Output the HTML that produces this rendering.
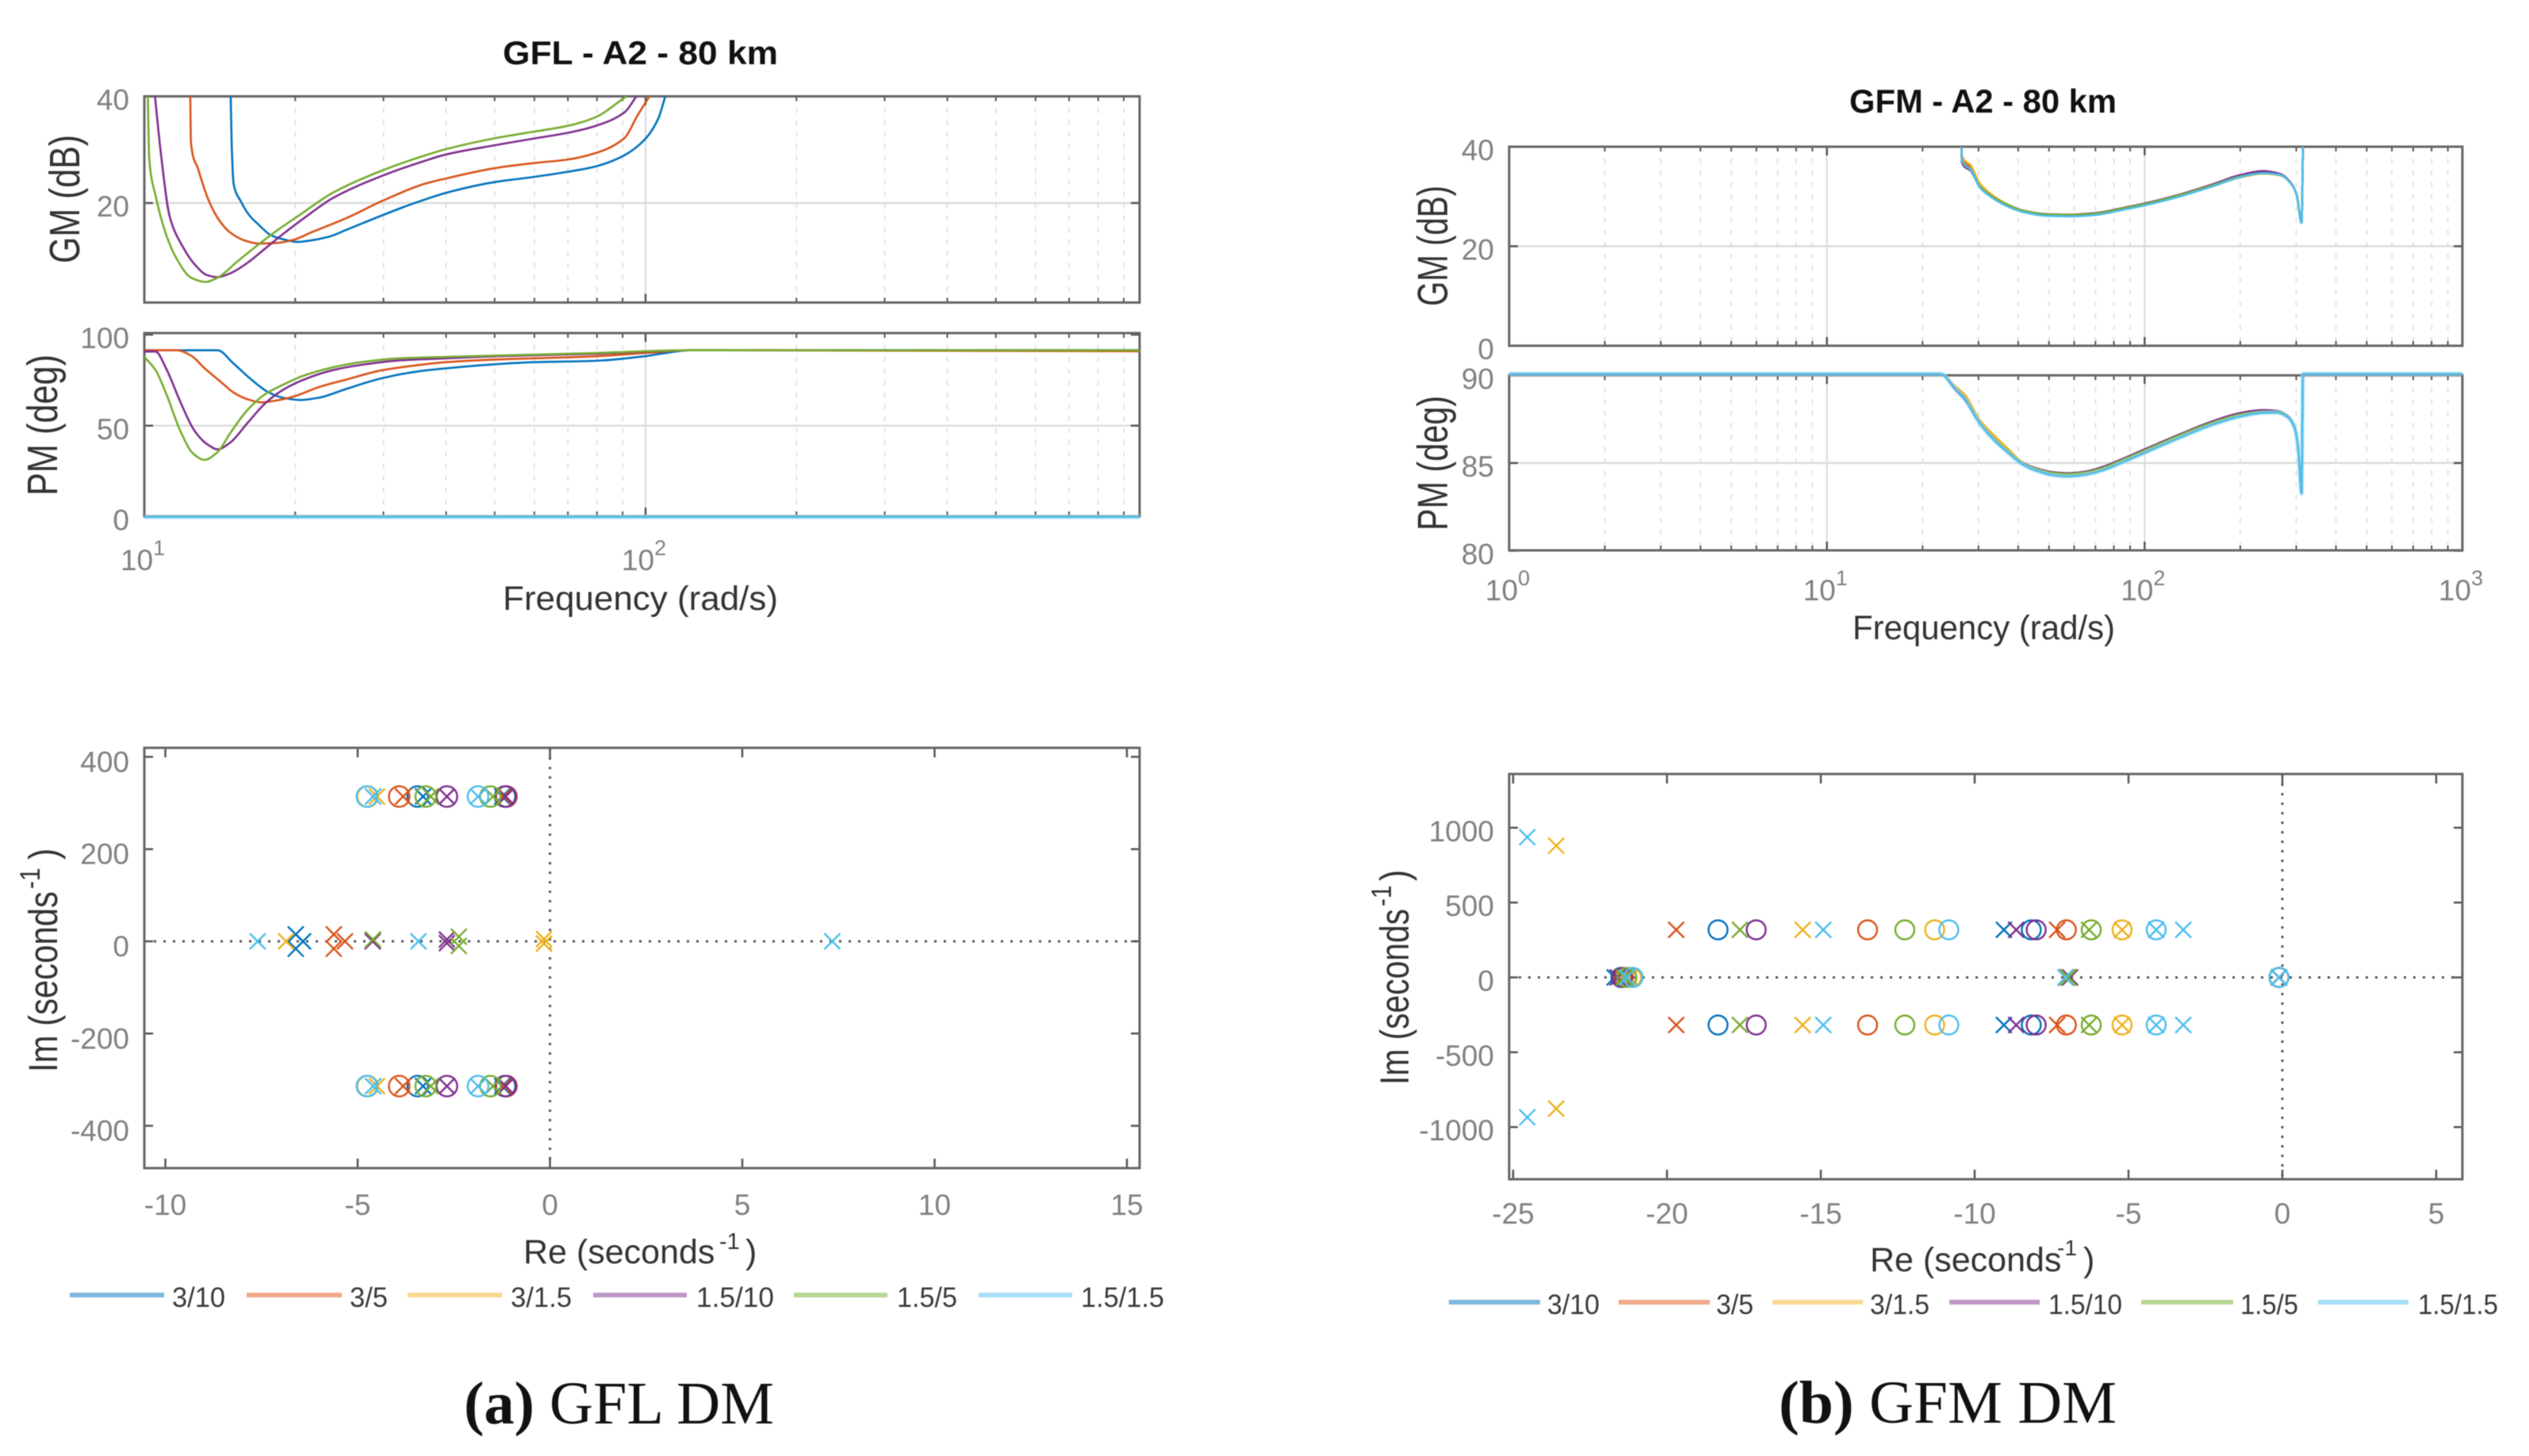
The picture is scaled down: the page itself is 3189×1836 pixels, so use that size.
<!DOCTYPE html>
<html lang="en">
<head>
<meta charset="utf-8">
<title>GFL and GFM DM charts</title>
<style>
html,body{margin:0;padding:0;background:#fff;width:3189px;height:1836px;overflow:hidden}
svg{display:block;filter:blur(0.6px)}
text{font-family:"Liberation Sans",Arial,sans-serif}
.ttl{font-size:42px;font-weight:bold;fill:#111}
.lab{font-size:43px;fill:#333}
.lgd{font-size:35px;fill:#3a3a3a}
.tick{font-size:37px;fill:#808080}
.cap{font-family:"Liberation Serif",serif;font-size:76px;fill:#111}
</style>
</head>
<body>
<svg id="chart" xmlns="http://www.w3.org/2000/svg" width="3189" height="1836" viewBox="0 0 3189 1836">
<rect x="0" y="0" width="3189" height="1836" fill="#fff"/>
<defs>
<clipPath id="clipGmA"><rect x="182" y="121" width="1255" height="261"/></clipPath>
<clipPath id="clipGmB"><rect x="1903" y="185" width="1202" height="251"/></clipPath>
</defs>

<g id="gfl-gm"></g>
<g id="gfl-pm"></g>
<g id="gfl-pz"></g>
<g id="gfm-gm"></g>
<g id="gfm-pm"></g>
<g id="gfm-pz"></g>

<text class="ttl" x="634" y="81" textLength="347" lengthAdjust="spacingAndGlyphs">GFL - A2 - 80 km</text>
<text class="ttl" x="2332" y="142" textLength="337" lengthAdjust="spacingAndGlyphs">GFM - A2 - 80 km</text>

<text class="lab" transform="translate(100,332) rotate(-90) scale(1,1.25)" textLength="162" lengthAdjust="spacingAndGlyphs">GM (dB)</text>
<text class="lab" transform="translate(72,625) rotate(-90) scale(1,1.25)" textLength="178" lengthAdjust="spacingAndGlyphs">PM (deg)</text>
<text class="lab" x="634" y="769" textLength="347" lengthAdjust="spacingAndGlyphs">Frequency (rad/s)</text>

<text class="lab" transform="translate(1825,386) rotate(-90) scale(1,1.25)" textLength="152" lengthAdjust="spacingAndGlyphs">GM (dB)</text>
<text class="lab" transform="translate(1825,669) rotate(-90) scale(1,1.25)" textLength="170" lengthAdjust="spacingAndGlyphs">PM (deg)</text>
<text class="lab" x="2336" y="806" textLength="331" lengthAdjust="spacingAndGlyphs">Frequency (rad/s)</text>

<text class="lab" y="1593"><tspan x="660">Re (seconds</tspan><tspan x="907" dy="-18" font-size="29">-1</tspan><tspan x="940" dy="18">)</tspan></text>
<text class="lab" y="1603" font-size="42"><tspan x="2358">Re (seconds</tspan><tspan x="2594" dy="-20" font-size="28">-1</tspan><tspan x="2627" dy="20">)</tspan></text>

<g class="lab">
<text class="lab" transform="translate(72,1352) rotate(-90) scale(1,1.18)" textLength="228" lengthAdjust="spacingAndGlyphs">Im (seconds</text>
<text class="lab" style="font-size:30px" transform="translate(50,1121) rotate(-90) scale(1,1.18)">-1</text>
<text class="lab" transform="translate(72,1084) rotate(-90) scale(1,1.18)">)</text>
</g>
<g class="lab">
<text class="lab" transform="translate(1776,1368) rotate(-90) scale(1,1.18)" textLength="222" lengthAdjust="spacingAndGlyphs">Im (seconds</text>
<text class="lab" style="font-size:30px" transform="translate(1754,1143) rotate(-90) scale(1,1.18)">-1</text>
<text class="lab" transform="translate(1776,1111) rotate(-90) scale(1,1.18)">)</text>
</g>

<g>
<line x1="88" x2="207" y1="1633" y2="1633" stroke="#7fb8de" stroke-width="6"/>
<text class="lgd" x="217" y="1648" textLength="67" lengthAdjust="spacingAndGlyphs">3/10</text>
<line x1="311" x2="431" y1="1633" y2="1633" stroke="#f0a98c" stroke-width="6"/>
<text class="lgd" x="441" y="1648" textLength="48" lengthAdjust="spacingAndGlyphs">3/5</text>
<line x1="514" x2="633" y1="1633" y2="1633" stroke="#f7d88f" stroke-width="6"/>
<text class="lgd" x="644" y="1648" textLength="77" lengthAdjust="spacingAndGlyphs">3/1.5</text>
<line x1="748" x2="866" y1="1633" y2="1633" stroke="#bf97c6" stroke-width="6"/>
<text class="lgd" x="878" y="1648" textLength="98" lengthAdjust="spacingAndGlyphs">1.5/10</text>
<line x1="1001" x2="1119" y1="1633" y2="1633" stroke="#b9d596" stroke-width="6"/>
<text class="lgd" x="1131" y="1648" textLength="76" lengthAdjust="spacingAndGlyphs">1.5/5</text>
<line x1="1234" x2="1352" y1="1633" y2="1633" stroke="#a6def6" stroke-width="6"/>
<text class="lgd" x="1363" y="1648" textLength="105" lengthAdjust="spacingAndGlyphs">1.5/1.5</text>
</g>

<g>
<line x1="1827" x2="1942" y1="1642" y2="1642" stroke="#7fb8de" stroke-width="6"/>
<text class="lgd" x="1951" y="1657" textLength="66" lengthAdjust="spacingAndGlyphs">3/10</text>
<line x1="2041" x2="2156" y1="1642" y2="1642" stroke="#f0a98c" stroke-width="6"/>
<text class="lgd" x="2164" y="1657" textLength="47" lengthAdjust="spacingAndGlyphs">3/5</text>
<line x1="2235" x2="2349" y1="1642" y2="1642" stroke="#f7d88f" stroke-width="6"/>
<text class="lgd" x="2358" y="1657" textLength="75" lengthAdjust="spacingAndGlyphs">3/1.5</text>
<line x1="2458" x2="2572" y1="1642" y2="1642" stroke="#bf97c6" stroke-width="6"/>
<text class="lgd" x="2583" y="1657" textLength="93" lengthAdjust="spacingAndGlyphs">1.5/10</text>
<line x1="2700" x2="2816" y1="1642" y2="1642" stroke="#b9d596" stroke-width="6"/>
<text class="lgd" x="2825" y="1657" textLength="73" lengthAdjust="spacingAndGlyphs">1.5/5</text>
<line x1="2923" x2="3037" y1="1642" y2="1642" stroke="#a6def6" stroke-width="6"/>
<text class="lgd" x="3049" y="1657" textLength="101" lengthAdjust="spacingAndGlyphs">1.5/1.5</text>
</g>

<text class="cap" x="585" y="1795" textLength="391" lengthAdjust="spacingAndGlyphs"><tspan font-weight="bold">(a)</tspan> GFL DM</text>
<text class="cap" x="2243" y="1794" textLength="426" lengthAdjust="spacingAndGlyphs"><tspan font-weight="bold">(b)</tspan> GFM DM</text>
</svg>

<script>
// ---------- series identity ----------
const seriesNames = ['3-10', '3-5', '3-1.5', '1.5-10', '1.5-5', '1.5-1.5'];
const seriesColors = ['#0072BD', '#D95319', '#EDB120', '#7E2F8E', '#77AC30', '#4DBEEE'];

// ---------- GFL gain margin (rad/s, dB) ----------
const gflGmFreq = [
  [14.87,14.94,15.07,15.56,16.2,16.88,17.87,18.92,20.19,21.54,23.37,25.35,29.83,35.1,39.96,49.8,60,69.4,79.1,90.1,99.4,106,109.5],
  [12.35,12.39,12.8,13.45,14.12,14.82,15.82,16.88,18.31,19.86,21.54,25.35,29.83,36.25,39.96,49.8,60,69.4,79.1,90.8,96.2,101.8],
  [],
  [10.5,10.79,11.24,11.9,12.6,13.33,14,14.82,16.07,17.44,18.92,20.85,23.75,29.83,36.25,39.96,49.8,60,69.4,79.1,90.8,95.9],
  [10.16,10.23,10.53,11.06,11.61,12.39,13.23,14,15.31,16.88,18.31,20.52,23.75,29.83,36.25,39.96,49.8,60,69.4,79.1,91.6],
  []
];
const gflGmValues = [
  [40,30.8,23.6,20.4,17.7,16,14,13.2,12.7,13,13.7,15,17.7,20.2,21.9,23.9,24.9,25.8,26.8,28.8,31.8,35.8,40],
  [40,31.3,26.4,20.4,16.7,14.5,13,12.4,12.5,13.1,14.5,17.2,20.4,23.6,24.6,26.5,27.5,28.1,29.3,32.2,36.3,40],
  [],
  [40,29.3,17.4,12,8.5,6.5,6.1,6.8,8.8,11.5,14.2,17.2,20.9,25.1,27.9,29.1,30.8,32.1,33.1,34.4,37,40],
  [40,28.3,21.4,14,9.5,6,5.2,6,9,12.2,14.7,17.9,21.9,26.1,28.9,30.1,32.1,33.4,34.4,36,40],
  []
];

// ---------- GFL phase margin (rad/s, deg) ----------
const gflPmFreq = [
  [10,14,15.07,16.34,17.73,18.92,20.52,22.26,25.35,29.83,35.1,39.96,49.8,60,79.1,99.4,109.5,122.4,968],
  [10,11.61,12.39,13.23,14.12,15.07,16.07,17.16,18.31,19.86,22.26,25.35,29.83,36.25,39.96,49.8,60,79.1,99.4,122.4,968],
  [10,968],
  [10,10.53,11.06,11.8,12.6,13.33,14,14.82,16.07,17.44,18.92,20.85,23.75,27.06,32.35,39.96,49.8,79.1,122.4,968],
  [10,10.53,11.06,11.8,12.5,13.18,14,14.82,16.07,17.44,18.92,20.85,23.75,27.06,32.35,39.96,49.8,79.1,122.4,968],
  [10,968]
];
const gflPmValues = [
  [91.4,91.4,84.1,75.4,68.2,65.3,64.1,65.3,70.3,76.1,79.8,81.5,83.7,84.9,85.6,88.1,89.9,91.4,91.4],
  [91.4,91.4,88.5,81.2,74.7,68.2,64.5,62.8,63.8,66,71.1,75.4,80.5,83.7,84.9,86.3,87,88.1,89.9,91.4,90.9],
  [0,0],
  [90.7,90.7,81.2,63.1,47.1,39.9,37,40.6,51.5,62.4,69.7,75.4,80.5,83.4,85.9,87,88.1,89.5,91.4,91.4],
  [87.8,80.5,67.4,47.1,34.8,31.2,35.5,45.7,58.7,67.4,72.5,77.6,82,84.9,87,87.8,88.5,89.9,91.4,91.4],
  [-0.2,-0.2]
];

// ---------- GFM gain margin ----------
const gfmGmFreq = [26.5,26.6,28.4,30.3,32.7,36.2,41.2,49.3,59,70.6,86.7,100,127.4,164.6,199.5,235.7,267.9,289.4,300.8,311.8,315];
const gfmGmValues = [
  [40,37.6,35.5,32,30.2,28.5,27.1,26.3,26.2,26.5,27.6,28.4,30.1,32.3,34.1,34.9,34.4,32.6,30.4,24.7,40],
  [40,37.8,35.7,32.2,30.3,28.6,27.1,26.3,26.2,26.5,27.6,28.4,30.1,32.2,34,34.8,34.3,32.5,30.4,24.8,40],
  [40,38.3,36.2,32.6,30.6,28.75,27.2,26.35,26.2,26.5,27.5,28.3,30,32.1,33.8,34.6,34.2,32.5,30.3,24.8,40],
  [40,36.9,35.1,31.9,30.2,28.6,27.2,26.45,26.35,26.7,27.8,28.6,30.3,32.5,34.3,35.1,34.5,32.6,30.4,24.7,40],
  [40,37.4,35.4,32,30.2,28.6,27.2,26.4,26.3,26.6,27.7,28.5,30.2,32.3,34,34.7,34.3,32.5,30.4,24.8,40],
  [40,37.4,35.3,31.8,30,28.3,26.9,26.1,26,26.3,27.4,28.2,29.9,32.1,33.9,34.7,34.3,32.5,30.3,24.7,40]
];

// ---------- GFM phase margin ----------
const gfmPmFreq = [1,22.8,25.3,27.3,30.3,33.5,37.2,41.2,45.6,51.9,57.5,65.3,74.3,86.7,100,127.4,164.6,199.5,235.7,261.2,282,296.9,304.6,311.8,315,1000];
const gfmPmValues = [
  [90.08,90.08,89.3,88.65,87.3,86.4,85.65,85,84.64,84.4,84.34,84.44,84.7,85.2,85.68,86.5,87.3,87.75,87.93,87.93,87.67,87,85.8,83.27,90.08,90.08],
  [90.08,90.08,89.35,88.7,87.35,86.45,85.7,85,84.64,84.4,84.34,84.44,84.7,85.2,85.68,86.5,87.28,87.73,87.9,87.9,87.65,87,85.8,83.3,90.08,90.08],
  [90.08,90.08,89.4,88.85,87.45,86.6,85.8,85.05,84.66,84.4,84.34,84.42,84.68,85.17,85.65,86.45,87.22,87.68,87.87,87.87,87.62,86.95,85.75,83.3,90.08,90.08],
  [90.08,90.08,89.2,88.55,87.25,86.38,85.65,85.03,84.7,84.47,84.42,84.52,84.8,85.3,85.78,86.6,87.4,87.85,88.02,87.98,87.7,87,85.8,83.27,90.08,90.08],
  [90.08,90.08,89.25,88.6,87.3,86.42,85.68,85.02,84.67,84.44,84.38,84.48,84.74,85.25,85.72,86.55,87.33,87.77,87.93,87.93,87.67,87,85.8,83.3,90.08,90.08],
  [90.08,90.08,89.25,88.6,87.25,86.33,85.58,84.93,84.56,84.3,84.24,84.34,84.6,85.1,85.58,86.4,87.2,87.65,87.86,87.88,87.62,86.95,85.75,83.27,90.08,90.08]
];

// ---------- GFL poles and zeros ----------
const gflPoleRe = [
  [-6.61,-6.61,-6.42,-3.3,-3.3,-1.24,-1.24],
  [-5.62,-5.62,-5.33,-3.82,-3.82,-1.2,-1.2],
  [-6.86,-0.155,-0.155,-4.5,-4.5],
  [-2.68,-2.68,-4.61,-2.68,-2.68,-1.15,-1.15],
  [-2.37,-2.37,-4.6,-3.1,-3.1,-1.48,-1.48],
  [-7.6,-3.42,7.34,-4.6,-4.6,-1.87,-1.87]
];
const gflPoleIm = [
  [15,-16,0,314,-314,314,-314],
  [15,-16,0,314,-314,314,-314],
  [0,5,-5,314,-314],
  [4,-4,0,314,-314,314,-314],
  [10,-10,4,314,-314,314,-314],
  [0,0,0,314,-314,314,-314]
];
const gflZeroRe = [
  [-3.44,-3.44,-1.17,-1.17],
  [-3.92,-3.92,-1.13,-1.13],
  [-4.74,-4.74],
  [-2.68,-2.68,-1.15,-1.15],
  [-3.23,-3.23,-1.55,-1.55],
  [-4.76,-4.76,-1.87,-1.87]
];
const gflZeroIm = [
  [314,-314,314,-314],
  [314,-314,314,-314],
  [314,-314],
  [314,-314,314,-314],
  [314,-314,314,-314],
  [314,-314,314,-314]
];

// ---------- GFM poles and zeros ----------
const gfmPoleRe = [
  [-9.05,-9.05,-21.7,-7.02,-0.11],
  [-19.7,-19.7,-7.32,-7.32,-21.45,-6.97,-0.11],
  [-23.6,-23.6,-15.59,-15.59,-5.21,-5.21,-21.2,-6.98,-0.11],
  [-8.65,-8.65,-21.6,-6.9,-0.11],
  [-17.63,-17.63,-6.28,-6.28,-21.4,-6.95,-0.11],
  [-24.54,-24.54,-14.92,-14.92,-4.1,-4.1,-3.22,-3.22,-21.3,-7.05,-0.11]
];
const gfmPoleIm = [
  [318,-318,0,0,0],
  [318,-318,318,-318,0,0,0],
  [880,-877,318,-318,318,-318,0,0,0],
  [318,-318,0,0,0],
  [318,-318,318,-318,0,0,0],
  [937,-935,318,-318,318,-318,318,-318,0,0,0]
];
const gfmZeroRe = [
  [-18.34,-18.34,-8.16,-8.16,-21.5,-0.11],
  [-13.48,-13.48,-7.02,-7.02,-21.4,-0.11],
  [-11.3,-11.3,-5.21,-5.21,-21.15,-0.11],
  [-17.1,-17.1,-8,-8,-21.45,-0.11],
  [-12.27,-12.27,-6.21,-6.21,-21.3,-0.11],
  [-10.84,-10.84,-4.1,-4.1,-21.1,-0.11]
];
const gfmZeroIm = [
  [318,-318,318,-318,0,0],
  [318,-318,318,-318,0,0],
  [318,-318,318,-318,0,0],
  [318,-318,318,-318,0,0],
  [318,-318,318,-318,0,0],
  [318,-318,318,-318,0,0]
];

// ---------- tick labels ----------
const gflGmTicks = [20, 40];
const gflPmTicks = [0, 50, 100];
const gflDecades = [1, 2];
const gfmGmTicks = [0, 20, 40];
const gfmPmTicks = [80, 85, 90];
const gfmDecades = [0, 1, 2, 3];
const gflReTicks = [-10, -5, 0, 5, 10, 15];
const gflImTicks = [-400, -200, 0, 200, 400];
const gfmReTicks = [-25, -20, -15, -10, -5, 0, 5];
const gfmImTicks = [-1000, -500, 0, 500, 1000];

// ---------- helpers ----------
const NS = 'http://www.w3.org/2000/svg';
function mk(tag, parent, attrs) {
  const el = document.createElementNS(NS, tag);
  for (const k in attrs) el.setAttribute(k, attrs[k]);
  parent.appendChild(el);
  return el;
}
function linScale(v0, p0, v1, p1) {
  return function (v) { return p0 + (v - v0) * (p1 - p0) / (v1 - v0); };
}
function logScale(decade0, p0, decade1, p1) {
  return function (f) { return p0 + (Math.log10(f) - decade0) * (p1 - p0) / (decade1 - decade0); };
}
// Monotone cubic path through screen points (no overshoot past the read values).
function monotonePath(xs, ys) {
  const n = xs.length;
  if (n < 3) return 'M' + xs[0] + ' ' + ys[0] + 'L' + xs[n - 1] + ' ' + ys[n - 1];
  const dx = [], sl = [], m = new Array(n);
  for (let i = 0; i < n - 1; i++) {
    dx[i] = Math.max(xs[i + 1] - xs[i], 0.001);
    sl[i] = (ys[i + 1] - ys[i]) / dx[i];
  }
  m[0] = sl[0];
  m[n - 1] = sl[n - 2];
  for (let i = 1; i < n - 1; i++) {
    if (sl[i - 1] * sl[i] <= 0) m[i] = 0;
    else m[i] = 3 * (dx[i - 1] + dx[i]) / ((2 * dx[i] + dx[i - 1]) / sl[i - 1] + (dx[i] + 2 * dx[i - 1]) / sl[i]);
  }
  let d = 'M' + xs[0].toFixed(1) + ' ' + ys[0].toFixed(1);
  for (let i = 0; i < n - 1; i++) {
    const h = dx[i] / 3;
    d += 'C' + (xs[i] + h).toFixed(1) + ' ' + (ys[i] + m[i] * h).toFixed(1) + ' ' +
         (xs[i + 1] - h).toFixed(1) + ' ' + (ys[i + 1] - m[i + 1] * h).toFixed(1) + ' ' +
         xs[i + 1].toFixed(1) + ' ' + ys[i + 1].toFixed(1);
  }
  return d;
}
const AXIS = '#666', TICK = '#555';

function drawFrame(g, box) {
  const el = mk('rect', g, { x: box.l, y: box.t, width: box.r - box.l, height: box.b - box.t, fill: 'none', stroke: AXIS, 'stroke-width': 3 });
  
  
}

function drawYAxis(g, box, ticks, y, baselineOffset, withGrid) {
  ticks.forEach(function (v) {
    const p = y(v);
    if (withGrid && p > box.t + 3 && p < box.b - 3) {
      const gl = mk('line', g, { x1: box.l, x2: box.r, y1: p, y2: p, stroke: '#dcdcdc', 'stroke-width': 2.5 });
      
      
    }
    const t1 = mk('path', g, { d: 'M' + box.l + ' ' + p + 'h11M' + box.r + ' ' + p + 'h-11', stroke: TICK, 'stroke-width': 2.5, fill: 'none' });
    
    
    const lb = mk('text', g, { x: box.l - 19, y: p + baselineOffset, 'text-anchor': 'end', class: 'tick' });
    
    
    lb.textContent = String(v);
  });
}

function drawLogGrid(g, box, decades, x, labelBaseline) {
  const first = decades[0];
  const last = decades[decades.length - 1];
  for (let d = first; d <= last + 1; d++) {
    const major = x(Math.pow(10, d));
    if (major >= box.l - 1 && major <= box.r + 1) {
      if (major > box.l + 3 && major < box.r - 3) {
        const gl = mk('line', g, { x1: major, x2: major, y1: box.t, y2: box.b, stroke: '#d9d9d9', 'stroke-width': 2 });
        
        
      }
      const tk = mk('path', g, { d: 'M' + major + ' ' + box.t + 'v11M' + major + ' ' + box.b + 'v-11', stroke: TICK, 'stroke-width': 2.5, fill: 'none' });
      
      
    }
    for (let m = 2; m <= 9; m++) {
      const p = x(m * Math.pow(10, d));
      if (p <= box.l || p >= box.r) continue;
      const gl = mk('line', g, { x1: p, x2: p, y1: box.t, y2: box.b, stroke: '#e2e2e2', 'stroke-width': 2, 'stroke-dasharray': '6 9' });
      
      
      const tk = mk('path', g, { d: 'M' + p + ' ' + box.t + 'v6M' + p + ' ' + box.b + 'v-6', stroke: TICK, 'stroke-width': 2, fill: 'none' });
      
      
    }
  }
  if (labelBaseline) {
    decades.forEach(function (d) {
      const lb = mk('text', g, { x: x(Math.pow(10, d)) - 2, y: labelBaseline, 'text-anchor': 'middle', class: 'tick' });
      
      
      lb.appendChild(document.createTextNode('10'));
      const sp = mk('tspan', lb, { dy: -19, 'font-size': 27 });
      sp.textContent = String(d);
    });
  }
}

function drawCurve(g, freqs, values, idx, x, y, clip, width, halo) {
  if (!values.length) return;
  const xs = values.map(function (v, i) { return x(freqs[i]); });
  const ys = values.map(function (v) { return y(v); });
  const d = monotonePath(xs, ys);
  if (halo) {
    const hl = mk('path', g, { d: d, fill: 'none', stroke: '#a6def6', 'stroke-width': 6, 'stroke-opacity': 0.55, 'stroke-linejoin': 'round' });
    
    
  }
  const attrs = { d: d, fill: 'none', stroke: seriesColors[idx], 'stroke-width': width, 'stroke-linejoin': 'round' };
  if (clip) attrs['clip-path'] = 'url(#' + clip + ')';
  const el = mk('path', g, attrs);
  
  
}

function drawPoleZero(g, box, xTicks, yTicks, x, y, poleRe, poleIm, zeroRe, zeroIm, xLabelBaseline, yLabelOffset, circleR) {
  drawYAxis(g, box, yTicks, y, yLabelOffset, false);
  xTicks.forEach(function (v) {
    const p = x(v);
    const tk = mk('path', g, { d: 'M' + p + ' ' + box.t + 'v12M' + p + ' ' + box.b + 'v-12', stroke: TICK, 'stroke-width': 2.5, fill: 'none' });
    
    
    const lb = mk('text', g, { x: p, y: xLabelBaseline, 'text-anchor': 'middle', class: 'tick' });
    
    
    lb.textContent = String(v);
  });
  const h = mk('line', g, { x1: box.l, x2: box.r, y1: y(0), y2: y(0), stroke: '#555', 'stroke-width': 3, 'stroke-dasharray': '3 9' });
  
  
  const v0 = mk('line', g, { x1: x(0), x2: x(0), y1: box.t, y2: box.b, stroke: '#555', 'stroke-width': 3, 'stroke-dasharray': '3 9' });
  
  
  drawFrame(g, box);
  seriesNames.forEach(function (name, i) {
    zeroRe[i].forEach(function (re, j) {
      const c = mk('circle', g, { cx: x(re), cy: y(zeroIm[i][j]), r: circleR, fill: 'none', stroke: seriesColors[i], 'stroke-width': 2.4 });
      
      
    });
    poleRe[i].forEach(function (re, j) {
      const px = x(re), py = y(poleIm[i][j]), s = 10;
      const m = mk('path', g, { d: 'M' + (px - s) + ' ' + (py - s) + 'L' + (px + s) + ' ' + (py + s) + 'M' + (px - s) + ' ' + (py + s) + 'L' + (px + s) + ' ' + (py - s), fill: 'none', stroke: seriesColors[i], 'stroke-width': 2.4 });
      
      
    });
  });
}

function drawBode(gid, box, ticks, y, decades, x, freqs, values, sharedFreq, clip, labelBaseline, cyanHalo) {
  const g = document.getElementById(gid);
  drawLogGrid(g, box, decades, x, labelBaseline);
  drawYAxis(g, box, ticks, y, 17, true);
  drawFrame(g, box);
  seriesNames.forEach(function (n, i) {
    drawCurve(g, sharedFreq ? freqs : freqs[i], values[i], i, x, y, clip, 2.6, cyanHalo && i === 5);
  });
}

// ---------- panels ----------
const xGfl = logScale(1, 182, 2, 814);
const xGfm = logScale(0, 1903, 3, 3105);

drawBode('gfl-gm', { l: 182, r: 1437, t: 121.5, b: 381.5 }, gflGmTicks, linScale(40, 121.5, 20, 256), [1, 2], xGfl, gflGmFreq, gflGmValues, false, 'clipGmA', null, false);
drawBode('gfl-pm', { l: 182, r: 1437, t: 420, b: 651 }, gflPmTicks, linScale(100, 422, 0, 651.5), gflDecades, xGfl, gflPmFreq, gflPmValues, false, null, 719, true);
drawBode('gfm-gm', { l: 1903, r: 3105, t: 185, b: 436 }, gfmGmTicks, linScale(40, 185, 0, 436), [0, 1, 2], xGfm, gfmGmFreq, gfmGmValues, true, 'clipGmB', null, false);
drawBode('gfm-pm', { l: 1903, r: 3105, t: 473.3, b: 694 }, gfmPmTicks, linScale(90, 473.3, 80, 694.5), gfmDecades, xGfm, gfmPmFreq, gfmPmValues, true, null, 757, true);

drawPoleZero(document.getElementById('gfl-pz'), { l: 182, r: 1437, t: 943, b: 1473 }, gflReTicks, gflImTicks,
  linScale(0, 693.5, 10, 1178.5), linScale(0, 1187, 400, 954.4),
  gflPoleRe, gflPoleIm, gflZeroRe, gflZeroIm, 1532, 19, 13);
drawPoleZero(document.getElementById('gfm-pz'), { l: 1903, r: 3105, t: 976, b: 1487 }, gfmReTicks, gfmImTicks,
  linScale(0, 2878, -25, 1908), linScale(0, 1232.5, 1000, 1043.8),
  gfmPoleRe, gfmPoleIm, gfmZeroRe, gfmZeroIm, 1543, 17, 12);
</script>
</body>
</html>
